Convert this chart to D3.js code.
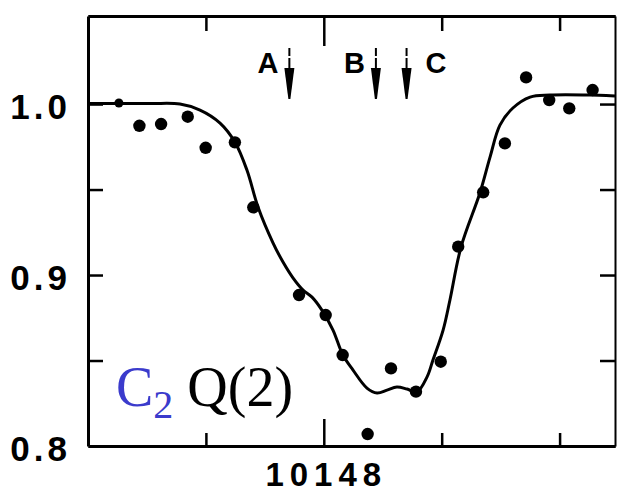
<!DOCTYPE html>
<html>
<head>
<meta charset="utf-8">
<script src="https://cdn.jsdelivr.net/npm/d3@7/dist/d3.min.js"></script>
<style>
  html, body { margin: 0; padding: 0; background: #fff; }
  svg { display: block; }
</style>
</head>
<body>
<script>
// ---- data ----
const pointX = [10147.131, 10147.218, 10147.310, 10147.423, 10147.499, 10147.623, 10147.701,
  10147.895, 10148.008, 10148.080, 10148.186, 10148.285, 10148.391, 10148.496, 10148.570,
  10148.676, 10148.768, 10148.858, 10148.956, 10149.041, 10149.140];
const pointY = [1.0006, 0.9873, 0.9883, 0.9926, 0.9744, 0.9776, 0.9396,
  0.8883, 0.8766, 0.8532, 0.8070, 0.8454, 0.8318, 0.8493, 0.9166,
  0.9484, 0.9770, 1.0156, 1.0023, 0.9975, 1.0082];

const fitX = [10147.000, 10147.263, 10147.390, 10147.475, 10147.560, 10147.623, 10147.674,
  10147.721, 10147.785, 10147.827, 10147.870, 10147.912, 10147.950, 10147.992, 10148.039,
  10148.081, 10148.124, 10148.183, 10148.226, 10148.268, 10148.310, 10148.353, 10148.395,
  10148.438, 10148.463, 10148.506, 10148.535, 10148.582, 10148.662, 10148.705, 10148.747,
  10148.802, 10148.875, 10148.959, 10149.129, 10149.235];
const fitY = [1.0003, 1.0003, 1.0000, 0.9965, 0.9889, 0.9778, 0.9614,
  0.9398, 0.9187, 0.9076, 0.8982, 0.8912, 0.8871, 0.8795, 0.8678,
  0.8532, 0.8444, 0.8339, 0.8310, 0.8327, 0.8345, 0.8333, 0.8316,
  0.8404, 0.8503, 0.8678, 0.8854, 0.9164, 0.9480, 0.9690, 0.9877,
  0.9977, 1.0041, 1.0053, 1.0053, 1.0047];

const markerLabels = ["A", "B", "C"];
const markerX = [10147.854, 10148.221, 10148.351];
const markerSide = ["left", "left", "right"];

const yTickLabels = [0.8, 0.9, 1.0];
const yMinorTicks = [0.85, 0.9, 0.95, 1.0];
const xMajorTicks = [10148];
const xMinorTicks = [10147.5, 10148.5, 10149];
const titleMain = "C";
const titleSub = "2";
const titleRest = " Q(2)";

// ---- layout ----
const W = 617, H = 493;
const svg = d3.select("body").append("svg").attr("width", W).attr("height", H);

const x = d3.scaleLinear().domain([10147.0, 10149.235]).range([88, 615]);
const y = d3.scaleLinear().domain([0.8, 1.0515]).range([446, 16]);

const ink = "#000";
const frame = svg.append("g");

const axisStroke = g => {
  g.select(".domain").attr("stroke", ink).attr("stroke-width", 3);
  g.selectAll(".tick line").attr("stroke", ink).attr("stroke-width", 2.5);
  g.selectAll(".tick text").remove();
};

// bottom axis
frame.append("g").attr("transform", `translate(0,${y(0.8)})`)
  .call(d3.axisTop(x).tickValues(xMinorTicks).tickSize(13).tickSizeOuter(0))
  .call(axisStroke);
frame.append("g").attr("transform", `translate(0,${y(0.8)})`)
  .call(d3.axisTop(x).tickValues(xMajorTicks).tickSize(27).tickSizeOuter(0))
  .call(axisStroke);
// top axis
frame.append("g").attr("transform", `translate(0,${y.range()[1]})`)
  .call(d3.axisBottom(x).tickValues(xMinorTicks).tickSize(15).tickSizeOuter(0))
  .call(axisStroke);
frame.append("g").attr("transform", `translate(0,${y.range()[1]})`)
  .call(d3.axisBottom(x).tickValues(xMajorTicks).tickSize(30).tickSizeOuter(0))
  .call(axisStroke);
// left axis
frame.append("g").attr("transform", `translate(${x.range()[0]},0)`)
  .call(d3.axisRight(y).tickValues(yMinorTicks).tickSize(15).tickSizeOuter(0))
  .call(axisStroke);
// right axis
frame.append("g").attr("transform", `translate(${x.range()[1]},0)`)
  .call(d3.axisLeft(y).tickValues(yMinorTicks).tickSize(15).tickSizeOuter(0))
  .call(g => { axisStroke(g); g.select(".domain").attr("stroke-width", 2); });

// y tick labels
svg.append("g").selectAll("text").data(yTickLabels).join("text")
  .attr("x", 71).attr("y", d => y(d) + 2)
  .attr("dy", "0.36em")
  .attr("text-anchor", "end")
  .style("font-family", "'Liberation Sans', Arial, sans-serif")
  .style("font-weight", "bold")
  .style("font-size", "35px")
  .style("letter-spacing", "4px")
  .attr("fill", ink)
  .text(d => d3.format(".1f")(d));

// x tick label
svg.append("g").selectAll("text").data(xMajorTicks).join("text")
  .attr("x", d => x(d) + 2.5).attr("y", 486)
  .attr("text-anchor", "middle")
  .style("font-family", "'Liberation Sans', Arial, sans-serif")
  .style("font-weight", "bold")
  .style("font-size", "33px")
  .style("letter-spacing", "6px")
  .attr("fill", ink)
  .text(d => d3.format("d")(d));

// fit line
const fitData = fitX.map((v, i) => [v, fitY[i]]);
svg.append("path")
  .datum(fitData)
  .attr("fill", "none")
  .attr("stroke", ink)
  .attr("stroke-width", 3)
  .attr("stroke-linejoin", "round")
  .attr("d", d3.line().x(d => x(d[0])).y(d => y(d[1])).curve(d3.curveCatmullRom.alpha(0.5)));

// data points
const pts = pointX.map((v, i) => [v, pointY[i]]);
svg.append("g").selectAll("circle").data(pts).join("circle")
  .attr("cx", d => x(d[0])).attr("cy", d => y(d[1]))
  .attr("r", (d, i) => i === 0 ? 4.5 : 6.2)
  .attr("fill", ink);

// A, B, C markers
const mk = svg.append("g");
markerX.forEach((mx, i) => {
  const cx = x(mx);
  const g = mk.append("g");
  g.append("line").attr("x1", cx).attr("x2", cx).attr("y1", 48).attr("y2", 56)
    .attr("stroke", ink).attr("stroke-width", 2);
  g.append("line").attr("x1", cx).attr("x2", cx).attr("y1", 58).attr("y2", 72)
    .attr("stroke", ink).attr("stroke-width", 2);
  g.append("path")
    .attr("d", `M${cx - 5},68 L${cx + 5},68 L${cx + 1},99 L${cx - 1},99 Z`)
    .attr("fill", ink);
  const left = markerSide[i] === "left";
  g.append("text")
    .attr("x", left ? cx - 11 : cx + 19)
    .attr("y", 73)
    .attr("text-anchor", left ? "end" : "start")
    .style("font-family", "'Liberation Sans', Arial, sans-serif")
    .style("font-weight", "bold")
    .style("font-size", "29px")
    .attr("fill", ink)
    .text(markerLabels[i]);
});

// label C2 Q(2)
const t = svg.append("text")
  .attr("x", 116).attr("y", 406)
  .style("font-family", "'Liberation Serif', 'Times New Roman', serif")
  .style("font-size", "56px");
t.append("tspan").attr("fill", "#3b3bcc").text(titleMain);
t.append("tspan").attr("fill", "#3b3bcc").attr("dy", 12).style("font-size", "40px").text(titleSub);
t.append("tspan").attr("fill", ink).attr("dy", -12).style("white-space", "pre").text(titleRest);
</script>
</body>
</html>
